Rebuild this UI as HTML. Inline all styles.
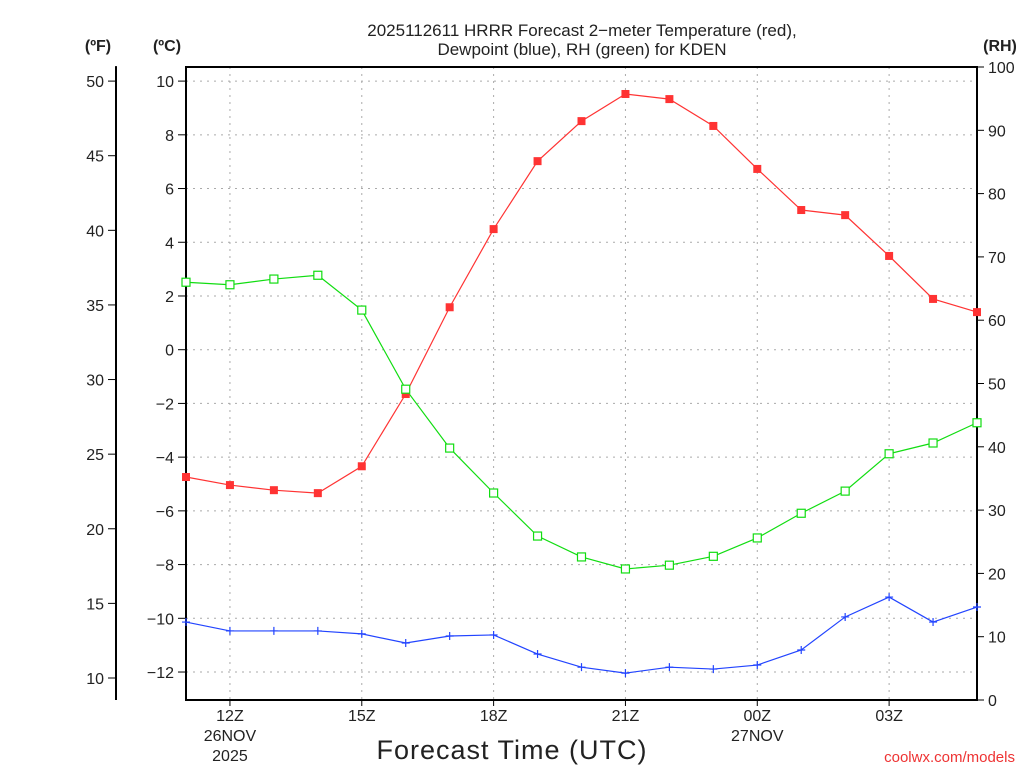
<!DOCTYPE html>
<html><head><meta charset="utf-8"><style>
body{margin:0;background:#fff;}
svg text{font-family:"Liberation Sans","DejaVu Sans",sans-serif;fill:#222;}
</style></head><body>
<svg id="chart" width="1024" height="768" xmlns="http://www.w3.org/2000/svg">
<text x="582" y="36" text-anchor="middle" font-size="17">2025112611 HRRR Forecast 2−meter Temperature (red),</text>
<text x="582" y="55" text-anchor="middle" font-size="17">Dewpoint (blue), RH (green) for KDEN</text>
<text x="98" y="51" text-anchor="middle" font-size="16" font-weight="bold">(ºF)</text>
<text x="167" y="51" text-anchor="middle" font-size="16" font-weight="bold">(ºC)</text>
<text x="1000" y="51" text-anchor="middle" font-size="16" font-weight="bold">(RH)</text>
<text x="512" y="759" text-anchor="middle" font-size="27" letter-spacing="1">Forecast Time (UTC)</text>
<text x="1015" y="762" text-anchor="end" font-size="15" style="fill:#e33">coolwx.com/models</text>
<g id="grid"></g><g id="axes"></g><g id="series"></g>
</svg>
<script>
const hours=[11,12,13,14,15,16,17,18,19,20,21,22,23,0,1,2,3,4,5];
const tempC=[-4.74,-5.04,-5.23,-5.34,-4.34,-1.65,1.58,4.49,7.02,8.51,9.52,9.33,8.33,6.73,5.20,5.01,3.49,1.89,1.40];
const dewC=[-10.14,-10.47,-10.47,-10.47,-10.58,-10.92,-10.66,-10.62,-11.33,-11.82,-12.04,-11.82,-11.89,-11.74,-11.18,-9.95,-9.21,-10.14,-9.58];
const rh=[66.0,65.6,66.5,67.1,61.6,49.1,39.8,32.7,25.9,22.6,20.7,21.3,22.7,25.6,29.5,33.0,38.9,40.6,43.8];
const cTicks=[10,8,6,4,2,0,-2,-4,-6,-8,-10,-12];
const fTicks=[50,45,40,35,30,25,20,15,10];
const rhTicks=[0,10,20,30,40,50,60,70,80,90,100];
const xTickIdx=[1,4,7,10,13,16];
const xTickLabels=["12Z","15Z","18Z","21Z","00Z","03Z"];
const xTickSub=[["26NOV","2025"],[],[],[],["27NOV"],[]];

const L=186,R=977,T=67,B=700;
const xs=i=>L+i*(R-L)/(hours.length-1);
const yC=c=>349.7-c*26.86;
const yF=f=>yC((f-32)*5/9);
const yRH=v=>B-v*(B-T)/100;
const NS="http://www.w3.org/2000/svg";
function mk(tag,parent,attrs){const e=document.createElementNS(NS,tag);for(const k in attrs)e.setAttribute(k,attrs[k]);parent.appendChild(e);return e;}
const grid=document.getElementById('grid'),axes=document.getElementById('axes'),series=document.getElementById('series');

cTicks.forEach(c=>{const y=yC(c);
 let g=mk('line',grid,{x1:L,x2:R,y1:y,y2:y,stroke:'#aaa','stroke-dasharray':'2,5'});
 
 mk('line',axes,{x1:L-8,x2:L,y1:y,y2:y,stroke:'#000'});
 let t=mk('text',axes,{x:L-12,y:y+6,'text-anchor':'end','font-size':16});t.textContent=(c<0?'−':'')+Math.abs(c);
 });
xTickIdx.forEach((idx,k)=>{const x=xs(idx);
 let g=mk('line',grid,{x1:x,x2:x,y1:T,y2:B,stroke:'#aaa','stroke-dasharray':'2,5'});
 
 mk('line',axes,{x1:x,x2:x,y1:B,y2:B+6,stroke:'#000'});
 let t=mk('text',axes,{x:x,y:721,'text-anchor':'middle','font-size':16});t.textContent=xTickLabels[k];
 
 xTickSub[k].forEach((s,j)=>{let u=mk('text',axes,{x:x,y:741+j*20,'text-anchor':'middle','font-size':16});u.textContent=s;
 });});
let box=mk('rect',axes,{x:L,y:T,width:R-L,height:B-T,fill:'none',stroke:'#000','stroke-width':2});

let fa=mk('line',axes,{x1:116,x2:116,y1:yF(51),y2:B,stroke:'#000','stroke-width':2});

fTicks.forEach(f=>{const y=yF(f);mk('line',axes,{x1:108,x2:116,y1:y,y2:y,stroke:'#000'});
 let t=mk('text',axes,{x:104,y:y+6,'text-anchor':'end','font-size':16});t.textContent=f;
 });
rhTicks.forEach(v=>{const y=yRH(v);mk('line',axes,{x1:R,x2:R+7,y1:y,y2:y,stroke:'#000'});
 let t=mk('text',axes,{x:988,y:y+6,'font-size':16});t.textContent=v;
 });

function line(vals,yf,color,name){
 const pts=vals.map((v,i)=>xs(i)+','+yf(v)).join(' ');
 let p=mk('polyline',series,{points:pts,fill:'none',stroke:color,'stroke-width':1.2});
 }
line(tempC,yC,'#f33','temperature');
line(dewC,yC,'#2244ff','dewpoint');
line(rh,yRH,'#1d1','rh');
tempC.forEach((v,i)=>{let m=mk('rect',series,{x:xs(i)-4,y:yC(v)-4,width:8,height:8,fill:'#f33'});
 });
rh.forEach((v,i)=>{let m=mk('rect',series,{x:xs(i)-4,y:yRH(v)-4,width:8,height:8,fill:'#fff',stroke:'#1d1','stroke-width':1.2});
 });
dewC.forEach((v,i)=>{const x=xs(i),y=yC(v);
 let m=mk('path',series,{d:`M${x-4},${y}H${x+4}M${x},${y-4}V${y+4}`,stroke:'#2244ff','stroke-width':1.2});
 });
</script>
</body></html>
